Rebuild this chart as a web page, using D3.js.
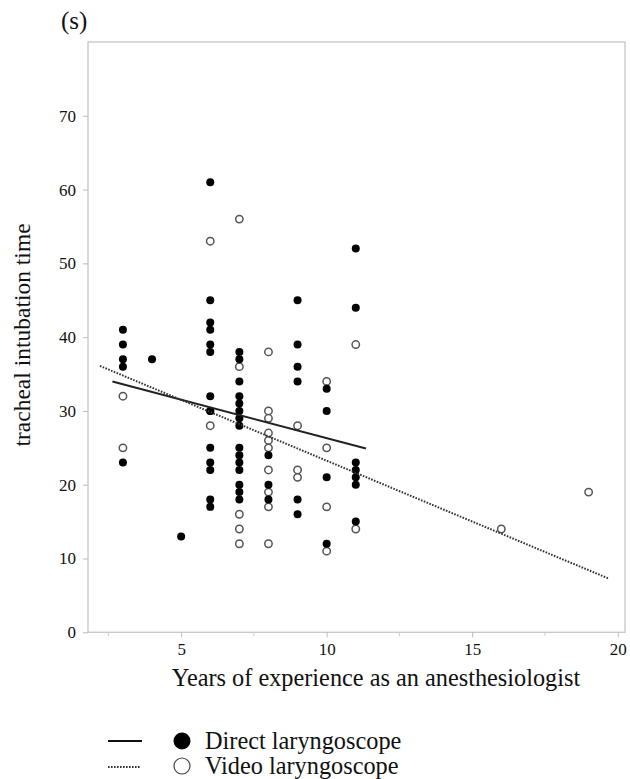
<!DOCTYPE html>
<html><head><meta charset="utf-8">
<script src="https://cdn.jsdelivr.net/npm/d3@7"></script>
<style>
html,body{margin:0;padding:0;background:#fff;}
svg text{font-family:"Liberation Serif","Times New Roman",serif;fill:#111;}
</style></head>
<body><svg id="c" width="630" height="779"></svg>
<script>
// Data
const directYears = [3,3,3,3,3, 4, 5,
  6,6,6,6,6,6,6,6,6,6,6,6,6,6,
  7,7,7,7,7,7,7,7,7,7,7,7,7,7,7,
  8,8,8, 9,9,9,9,9,9, 10,10,10,10, 11,11,11,11,11,11,11];
const directTimes = [41,39,37,36,23, 37, 13,
  61,45,42,41,39,38,32,30,30,25,23,22,18,17,
  38,37,34,32,31,30,29,28,25,24,23,22,20,19,18,
  24,20,18, 45,39,36,34,18,16, 33,30,21,12, 52,44,23,22,21,20,15];
const videoYears = [3,3, 6,6, 7,7,7,7,7, 8,8,8,8,8,8,8,8,8,8, 9,9,9, 10,10,10,10, 11,11, 16, 19];
const videoTimes = [32,25, 53,28, 56,36,16,14,12, 38,30,29,27,26,25,22,19,17,12, 28,22,21, 34,25,17,11, 39,14, 14, 19];
const directFitX = [2.64, 11.35], directFitY = [34.0, 24.9];
const videoFitX = [2.21, 19.68], videoFitY = [36.1, 7.3];
const xTicks = [5,10,15,20], xMinorTicks = [2.5,7.5,12.5,17.5];
const yTicks = [0,10,20,30,40,50,60,70];
const legendLabels = ["Direct laryngoscope","Video laryngoscope"];

const svg = d3.select("#c");
const L=88, R=625, T=42, B=632.3;
const x = d3.scaleLinear().domain([1.8,20.25]).range([L,R]);
const y = d3.scaleLinear().domain([0,80]).range([B,T]);

// frame
svg.append("rect").attr("x",L).attr("y",T).attr("width",R-L).attr("height",B-T)
  .attr("fill","none").attr("stroke","#c9c9c9").attr("stroke-width",1.4);

// y axis
const yAx = svg.append("g").attr("transform",`translate(${L},0)`)
  .call(d3.axisLeft(y).tickValues(yTicks).tickSize(5).tickPadding(7));
yAx.select(".domain").remove();
yAx.selectAll("line").attr("stroke","#bbb");
yAx.selectAll("text").attr("font-size",17).style("font-family","Liberation Serif");

// x axis
const xAx = svg.append("g").attr("transform",`translate(0,${B})`)
  .call(d3.axisBottom(x).tickValues(xTicks).tickSize(5).tickPadding(6));
xAx.select(".domain").remove();
xAx.selectAll("line").attr("stroke","#bbb");
xAx.selectAll("text").attr("font-size",17).style("font-family","Liberation Serif");
svg.append("g").selectAll("line").data(xMinorTicks).join("line")
  .attr("x1",d=>x(d)).attr("x2",d=>x(d)).attr("y1",B).attr("y2",B+4).attr("stroke","#ccc");

// titles
svg.append("text").attr("x",61).attr("y",29).attr("font-size",25).text("(s)");
svg.append("text").attr("x",376).attr("y",686).attr("text-anchor","middle").attr("font-size",24.3)
  .text("Years of experience as an anesthesiologist");
svg.append("text").attr("transform","translate(30,335) rotate(-90)").attr("text-anchor","middle")
  .attr("font-size",23.5).text("tracheal intubation time");

// points
svg.append("g").selectAll("circle").data(videoYears.map((v,i)=>[v,videoTimes[i]])).join("circle")
  .attr("cx",d=>x(d[0])).attr("cy",d=>y(d[1])).attr("r",3.7)
  .attr("fill","#fff").attr("stroke","#555").attr("stroke-width",1.5);
svg.append("g").selectAll("circle").data(directYears.map((v,i)=>[v,directTimes[i]])).join("circle")
  .attr("cx",d=>x(d[0])).attr("cy",d=>y(d[1])).attr("r",4).attr("fill","#000");

// fit lines
const line = d3.line().x(d=>x(d[0])).y(d=>y(d[1]));
svg.append("path").attr("d",line(directFitX.map((v,i)=>[v,directFitY[i]])))
  .attr("stroke","#222").attr("stroke-width",2).attr("fill","none");
svg.append("path").attr("d",line(videoFitX.map((v,i)=>[v,videoFitY[i]])))
  .attr("stroke","#333").attr("stroke-width",2).attr("stroke-dasharray","1.6,1.4").attr("fill","none");

// legend
const lg = svg.append("g");
lg.append("line").attr("x1",108).attr("x2",142).attr("y1",741).attr("y2",741).attr("stroke","#111").attr("stroke-width",2);
lg.append("line").attr("x1",108).attr("x2",141).attr("y1",767).attr("y2",767).attr("stroke","#333").attr("stroke-width",2).attr("stroke-dasharray","1.6,1.4");
lg.append("circle").attr("cx",182).attr("cy",741).attr("r",8.5).attr("fill","#000");
lg.append("circle").attr("cx",182).attr("cy",766).attr("r",8).attr("fill","#fff").attr("stroke","#444").attr("stroke-width",1.2);
lg.append("text").attr("x",205).attr("y",749).attr("font-size",24.3).text(legendLabels[0]);
lg.append("text").attr("x",205).attr("y",774).attr("font-size",24.3).text(legendLabels[1]);
</script></body></html>
